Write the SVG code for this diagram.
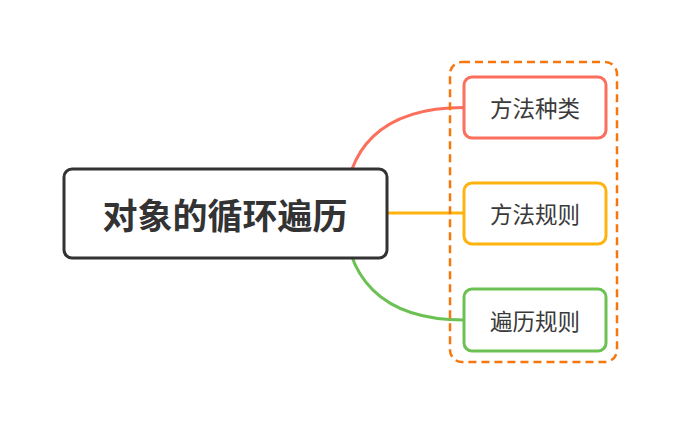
<svg xmlns="http://www.w3.org/2000/svg" width="680" height="425" viewBox="0 0 680 425">
<style>
.c{fill:none;stroke-width:3;stroke-linecap:round}
.box{fill:#fff;stroke-width:3}
.t{font-family:"Noto Sans CJK SC","Noto Sans",sans-serif;fill:#333;text-anchor:middle;dominant-baseline:central}
.sub{font-size:22.5px;fill:#3a3a3a}
</style>
<rect width="680" height="425" fill="#fff"/>
<g id="connectors">
<path class="c" stroke="#fb6f5c" d="M345 213 C345 150,380 107.5,464 107.5"/>
<path class="c" stroke="#ffb30e" d="M388 213 L464 213"/>
<path class="c" stroke="#6cc153" d="M345 213 C345 276,380 320,464 320"/>
</g>
<g id="group">
<rect x="450" y="62" width="167" height="300" rx="12" fill="none" stroke="#f5780e" stroke-width="2.5" stroke-dasharray="8,5"/>
</g>
<g id="root">
<rect class="box" x="64" y="169" width="323" height="89" rx="8" stroke="#333"/>
<text class="t" x="225" y="213" font-size="35" font-weight="bold">对象的循环遍历</text>
</g>
<g id="n1">
<rect class="box" x="464" y="77" width="142" height="61" rx="8" stroke="#fb6f5c"/>
<text class="t sub" x="535" y="107">方法种类</text>
</g>
<g id="n2">
<rect class="box" x="464" y="183" width="142" height="61" rx="8" stroke="#ffb30e"/>
<text class="t sub" x="535" y="213">方法规则</text>
</g>
<g id="n3">
<rect class="box" x="464" y="289" width="142" height="62" rx="8" stroke="#6cc153"/>
<text class="t sub" x="535" y="320">遍历规则</text>
</g>
</svg>
